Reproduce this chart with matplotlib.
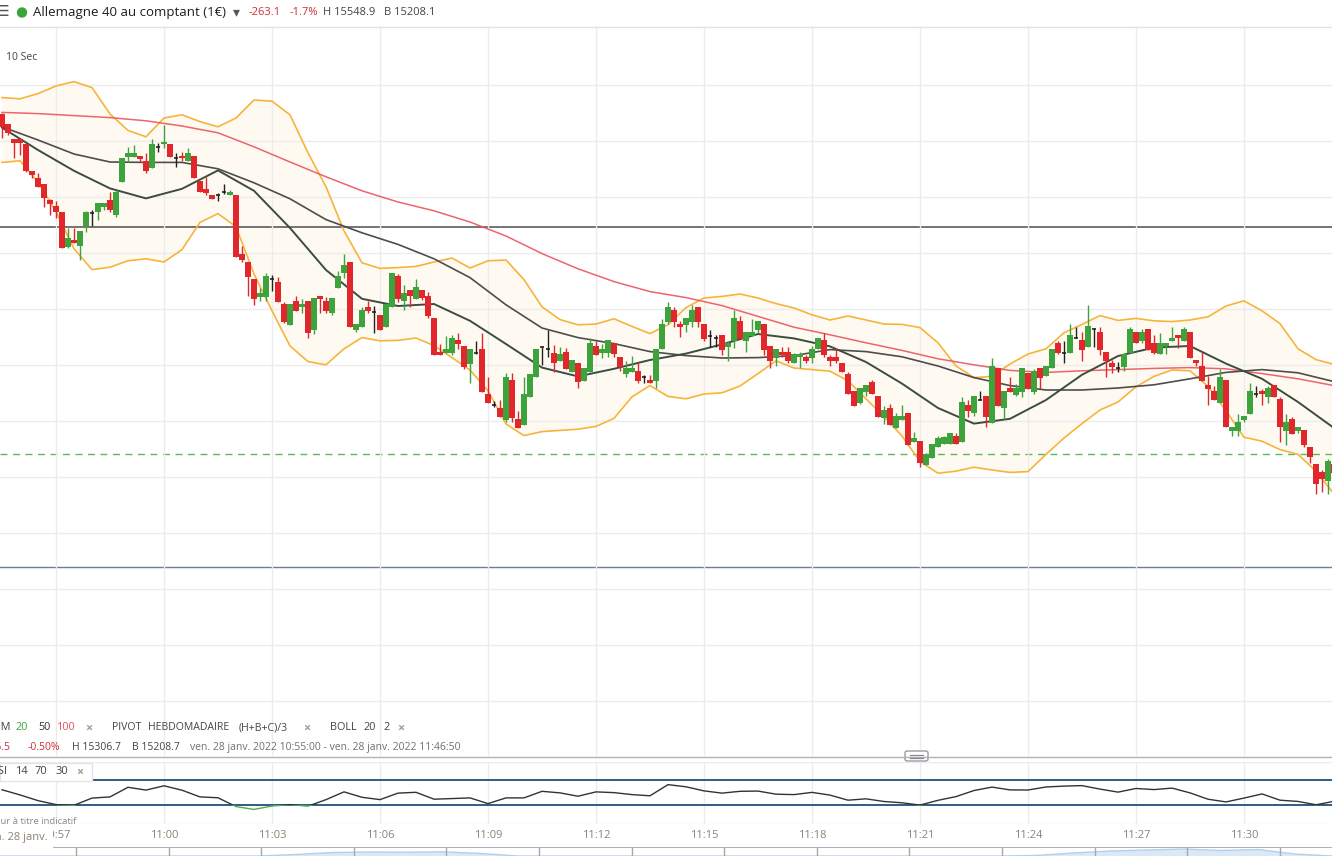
import numpy as np
import matplotlib.pyplot as plt
from matplotlib.patches import Rectangle, Ellipse, FancyBboxPatch
from matplotlib.lines import Line2D

plt.rcParams['font.family'] = ['Open Sans', 'DejaVu Sans']

W, H = 1332, 856

# 10 s candles, index 0 = 10:55:30
opens = [15306.4, 15303.9, 15300.3, 15300.3, 15299.0, 15292.3, 15290.6, 15289.0, 15285.0, 15283.5,
         15282.0, 15273.3, 15275.0, 15273.6, 15278.6, 15281.8, 15281.9, 15283.3, 15285.0, 15281.3,
         15289.6, 15295.8, 15295.8, 15296.0, 15294.8, 15293.1, 15298.3, 15298.9, 15298.9, 15295.6,
         15296.0, 15294.8, 15296.0, 15289.8, 15287.8, 15286.3, 15286.3, 15287.1, 15286.2, 15286.2,
         15271.5, 15269.4, 15265.3, 15260.8, 15260.8, 15265.2, 15264.6, 15259.0, 15253.8, 15259.8,
         15258.2, 15259.8, 15252.5, 15261.0, 15259.8, 15256.8, 15263.1, 15266.7, 15269.5, 15252.5,
         15253.3, 15258.2, 15257.1, 15256.3, 15253.3, 15258.2, 15266.0, 15259.8, 15262.5, 15260.3,
         15262.5, 15261.0, 15255.4, 15247.1, 15246.8, 15246.8, 15250.0, 15248.5, 15244.0, 15246.8,
         15247.8, 15236.5, 15233.8, 15233.1, 15230.0, 15240.0, 15230.3, 15228.8, 15235.8, 15240.7,
         15248.3, 15247.8, 15246.8, 15244.8, 15246.9, 15242.1, 15244.2, 15239.8, 15242.1, 15248.5,
         15246.8, 15246.8, 15249.2, 15245.7, 15241.4, 15242.1, 15242.3, 15240.8, 15240.0, 15239.8,
         15247.8, 15254.6, 15257.5, 15254.0, 15253.8, 15254.6, 15258.2, 15254.0, 15251.1, 15250.4,
         15251.3, 15248.3, 15249.8, 15254.8, 15249.8, 15251.0, 15252.5, 15254.0, 15248.5, 15245.4,
         15247.1, 15247.1, 15244.2, 15245.7, 15245.7, 15245.6, 15247.7, 15250.0, 15245.7, 15245.7,
         15244.3, 15241.5, 15237.3, 15234.3, 15237.1, 15239.4, 15236.0, 15230.5, 15233.1, 15228.1,
         15230.0, 15231.7, 15224.6, 15224.8, 15218.8, 15220.4, 15223.2, 15224.0, 15223.9, 15226.0,
         15224.6, 15233.8, 15231.7, 15235.0, 15236.0, 15229.2, 15242.9, 15232.9, 15238.1, 15236.3,
         15237.1, 15241.7, 15237.1, 15242.9, 15241.0, 15242.9, 15249.3, 15246.7, 15246.8, 15250.4,
         15250.0, 15248.3, 15252.7, 15252.1, 15247.1, 15244.2, 15242.9, 15243.3, 15246.8, 15252.0,
         15249.8, 15252.7, 15249.2, 15246.4, 15248.5, 15249.8, 15251.3, 15249.8, 15252.0, 15245.0,
         15243.5, 15238.8, 15237.3, 15234.3, 15240.0, 15227.3, 15227.3, 15230.0, 15231.5, 15236.4,
         15237.3, 15235.8, 15238.8, 15235.2, 15227.3, 15230.3, 15227.3, 15227.5, 15223.3, 15219.0,
         15217.1, 15214.8, 15219.0]
highs = [15306.8, 15304.0, 15300.3, 15300.3, 15299.0, 15292.3, 15291.8, 15289.0, 15285.3, 15284.8,
         15282.0, 15278.0, 15278.0, 15277.3, 15282.3, 15282.5, 15284.3, 15284.3, 15287.1, 15287.5,
         15295.4, 15298.3, 15298.8, 15296.0, 15296.7, 15300.3, 15299.2, 15303.8, 15298.9, 15296.7,
         15296.9, 15297.9, 15296.0, 15289.8, 15290.8, 15286.3, 15286.7, 15288.9, 15287.5, 15286.2,
         15273.5, 15269.4, 15265.3, 15262.9, 15266.7, 15266.3, 15265.7, 15259.4, 15259.0, 15261.0,
         15260.2, 15259.8, 15260.4, 15261.0, 15260.8, 15260.4, 15267.3, 15271.5, 15269.5, 15254.0,
         15258.2, 15259.8, 15258.5, 15256.3, 15259.0, 15266.8, 15266.5, 15263.8, 15262.5, 15265.3,
         15262.5, 15262.1, 15255.4, 15249.0, 15251.0, 15251.3, 15251.8, 15248.5, 15247.8, 15249.8,
         15251.8, 15240.7, 15234.8, 15235.0, 15241.8, 15241.8, 15232.3, 15240.8, 15241.5, 15247.8,
         15248.3, 15252.5, 15248.8, 15248.3, 15248.1, 15245.0, 15244.2, 15243.1, 15250.4, 15249.8,
         15248.9, 15250.0, 15249.2, 15245.7, 15244.8, 15246.1, 15244.2, 15241.3, 15241.2, 15247.8,
         15255.2, 15259.4, 15258.2, 15254.8, 15255.4, 15258.8, 15258.2, 15254.0, 15252.5, 15251.3,
         15251.3, 15249.8, 15257.5, 15256.0, 15251.9, 15255.2, 15254.8, 15254.0, 15248.5, 15247.8,
         15248.3, 15248.3, 15246.8, 15247.0, 15246.3, 15248.5, 15250.6, 15251.8, 15246.3, 15247.9,
         15244.3, 15242.1, 15237.3, 15238.1, 15238.8, 15240.0, 15236.0, 15233.5, 15233.9, 15231.8,
         15233.8, 15231.7, 15227.1, 15224.8, 15221.8, 15224.0, 15226.0, 15226.0, 15226.7, 15226.7,
         15235.7, 15235.0, 15236.0, 15237.3, 15236.0, 15245.4, 15242.9, 15237.3, 15240.7, 15239.0,
         15242.9, 15241.7, 15242.7, 15242.9, 15243.5, 15247.7, 15249.8, 15249.8, 15253.9, 15253.2,
         15252.1, 15258.8, 15252.9, 15253.2, 15247.1, 15245.0, 15244.6, 15246.5, 15253.3, 15252.0,
         15252.7, 15252.7, 15251.3, 15251.8, 15249.2, 15253.3, 15251.3, 15253.3, 15252.0, 15245.0,
         15247.1, 15241.0, 15238.5, 15242.7, 15240.0, 15228.2, 15231.5, 15231.0, 15239.2, 15238.5,
         15237.7, 15238.5, 15238.8, 15235.7, 15231.5, 15230.8, 15228.3, 15227.5, 15223.3, 15219.0,
         15217.5, 15220.2, 15219.0]
lows = [15300.5, 15301.3, 15295.4, 15296.3, 15292.0, 15290.5, 15288.3, 15283.3, 15281.3, 15280.6,
        15272.9, 15273.0, 15274.3, 15270.0, 15277.1, 15278.5, 15280.0, 15282.5, 15282.1, 15280.7,
        15289.6, 15294.6, 15295.8, 15294.5, 15291.8, 15293.1, 15296.9, 15298.1, 15295.8, 15293.3,
        15294.8, 15294.8, 15290.4, 15286.9, 15286.3, 15285.3, 15284.8, 15286.4, 15286.2, 15270.8,
        15269.5, 15261.1, 15258.8, 15259.8, 15259.8, 15262.3, 15259.6, 15254.2, 15253.8, 15257.3,
        15256.8, 15250.6, 15251.4, 15256.8, 15256.8, 15256.3, 15263.1, 15265.4, 15253.3, 15251.9,
        15253.3, 15256.8, 15251.8, 15252.5, 15253.3, 15258.2, 15259.6, 15257.5, 15258.3, 15260.3,
        15260.0, 15255.4, 15246.3, 15246.3, 15246.8, 15246.3, 15247.7, 15242.8, 15239.3, 15246.4,
        15237.1, 15234.3, 15233.2, 15230.8, 15229.6, 15229.6, 15228.1, 15228.8, 15235.8, 15240.7,
        15243.8, 15245.7, 15242.1, 15244.8, 15242.8, 15242.1, 15237.9, 15239.8, 15242.1, 15246.3,
        15245.6, 15245.7, 15245.7, 15242.3, 15240.8, 15242.1, 15239.3, 15239.3, 15239.3, 15238.1,
        15247.8, 15254.0, 15253.3, 15250.7, 15251.9, 15253.3, 15253.3, 15249.8, 15248.3, 15248.3,
        15246.3, 15244.8, 15247.9, 15250.3, 15247.1, 15251.0, 15251.8, 15246.3, 15242.9, 15243.6,
        15245.7, 15244.2, 15244.2, 15243.1, 15244.2, 15244.3, 15247.7, 15245.7, 15243.6, 15244.3,
        15242.1, 15236.4, 15233.6, 15234.0, 15236.1, 15236.4, 15230.8, 15229.0, 15228.8, 15228.0,
        15230.0, 15223.8, 15224.6, 15218.3, 15218.8, 15220.4, 15223.2, 15224.0, 15223.9, 15223.9,
        15224.6, 15230.8, 15231.0, 15235.0, 15228.2, 15229.2, 15233.5, 15230.3, 15237.1, 15236.0,
        15235.8, 15237.7, 15236.5, 15237.7, 15241.0, 15242.9, 15246.4, 15244.3, 15246.8, 15250.4,
        15244.8, 15248.3, 15248.3, 15246.3, 15240.8, 15241.7, 15242.1, 15242.3, 15246.8, 15249.2,
        15249.2, 15247.5, 15246.5, 15246.4, 15246.4, 15249.8, 15247.9, 15249.8, 15245.6, 15243.5,
        15239.8, 15233.8, 15235.0, 15234.3, 15228.2, 15226.0, 15226.0, 15229.6, 15231.5, 15235.8,
        15233.8, 15234.3, 15235.8, 15224.6, 15223.8, 15226.5, 15226.8, 15223.3, 15219.2, 15211.5,
        15212.1, 15211.5, 15216.8]
closes = [15303.3, 15301.7, 15299.3, 15299.3, 15292.3, 15291.3, 15288.3, 15285.4, 15283.9, 15281.9,
          15272.9, 15275.5, 15274.3, 15277.3, 15282.0, 15281.8, 15284.2, 15284.3, 15282.5, 15287.1,
          15295.4, 15296.7, 15296.7, 15295.3, 15292.3, 15298.9, 15298.3, 15299.4, 15295.8, 15295.6,
          15295.4, 15296.7, 15290.4, 15286.9, 15286.7, 15285.3, 15286.3, 15287.1, 15287.1, 15270.8,
          15270.0, 15265.8, 15260.3, 15261.8, 15266.0, 15265.2, 15259.6, 15254.6, 15259.0, 15257.3,
          15259.0, 15251.8, 15260.4, 15260.3, 15257.3, 15260.4, 15266.0, 15268.8, 15253.3, 15254.0,
          15257.5, 15257.3, 15257.1, 15252.5, 15259.0, 15266.8, 15260.3, 15261.8, 15261.0, 15263.2,
          15260.4, 15256.0, 15246.3, 15246.3, 15247.8, 15250.6, 15249.1, 15243.3, 15247.8, 15246.8,
          15237.1, 15234.3, 15233.8, 15230.8, 15240.8, 15230.6, 15228.1, 15236.5, 15241.5, 15247.8,
          15248.3, 15247.8, 15244.2, 15246.4, 15242.8, 15245.0, 15239.4, 15243.1, 15249.2, 15246.3,
          15247.8, 15250.0, 15246.4, 15243.2, 15242.9, 15242.9, 15239.8, 15240.8, 15239.3, 15247.8,
          15254.0, 15258.2, 15254.6, 15253.3, 15255.4, 15257.5, 15254.6, 15250.2, 15251.1, 15250.4,
          15247.5, 15249.2, 15255.4, 15250.3, 15251.9, 15251.9, 15254.8, 15247.5, 15244.8, 15247.8,
          15246.3, 15244.8, 15246.5, 15246.5, 15244.8, 15247.8, 15250.6, 15246.3, 15244.8, 15244.8,
          15242.1, 15236.4, 15233.6, 15238.1, 15238.8, 15236.4, 15230.8, 15232.5, 15228.8, 15231.0,
          15231.0, 15223.8, 15225.6, 15219.3, 15221.4, 15224.0, 15225.4, 15225.7, 15226.7, 15223.9,
          15234.4, 15232.3, 15236.0, 15235.0, 15230.8, 15243.5, 15233.5, 15237.3, 15237.1, 15238.1,
          15242.9, 15237.7, 15242.3, 15240.6, 15243.5, 15247.7, 15246.8, 15246.7, 15251.3, 15250.4,
          15247.5, 15253.5, 15252.7, 15247.5, 15244.8, 15243.3, 15242.9, 15246.5, 15252.7, 15249.2,
          15252.0, 15247.5, 15246.8, 15249.2, 15249.2, 15250.4, 15250.4, 15252.7, 15245.6, 15244.2,
          15239.8, 15237.8, 15235.0, 15240.7, 15228.2, 15228.2, 15229.4, 15231.0, 15237.3, 15236.4,
          15236.4, 15238.1, 15235.8, 15228.2, 15229.4, 15226.5, 15228.3, 15223.8, 15220.8, 15214.0,
          15215.2, 15219.8, 15216.8]

# moving averages, read every 6 candles
mm100 = [15306.9, 15306.6, 15306.1, 15305.6, 15304.8, 15303.5, 15301.8, 15298.3, 15294.5, 15290.8,
         15287.3, 15284.5, 15282.3, 15279.5, 15276.0, 15271.6, 15267.8, 15264.6, 15262.1, 15260.6,
         15258.6, 15255.9, 15253.2, 15251.3, 15249.3, 15247.4, 15245.3, 15243.8, 15242.4, 15241.9,
         15242.3, 15242.6, 15242.9, 15243.1, 15242.8, 15241.6, 15240.3, 15238.6]
mm50 = [15303.3, 15300.0, 15296.5, 15294.5, 15294.4, 15294.4, 15292.8, 15289.3, 15285.3, 15280.1,
        15276.8, 15273.9, 15270.3, 15265.6, 15258.8, 15253.0, 15250.6, 15249.1, 15247.1, 15246.1,
        15245.5, 15245.6, 15246.1, 15247.6, 15247.1, 15245.8, 15243.5, 15240.6, 15238.6, 15237.5,
        15237.5, 15238.0, 15238.8, 15240.3, 15241.9, 15242.6, 15241.8, 15239.6]
mm20 = [15303.1, 15297.5, 15292.3, 15287.9, 15285.4, 15287.8, 15292.4, 15287.3, 15278.0, 15267.5,
        15260.3, 15258.5, 15259.0, 15254.8, 15249.0, 15243.1, 15240.9, 15242.8, 15245.0, 15246.6,
        15248.9, 15251.5, 15250.4, 15248.4, 15244.5, 15239.1, 15233.0, 15229.1, 15230.3, 15235.0,
        15241.3, 15246.0, 15248.1, 15248.5, 15244.1, 15240.3, 15234.5, 15228.0]

# Bollinger (20, 2) and RSI 14, read every 3 candles
boll_up = [15310.6, 15310.3, 15311.6, 15313.5, 15314.6, 15313.1, 15306.5, 15302.4, 15300.8, 15305.5,
           15306.3, 15304.6, 15303.3, 15305.5, 15310.0, 15309.7, 15306.3, 15296.8, 15288.3, 15277.3,
           15269.3, 15267.9, 15268.1, 15268.4, 15269.5, 15270.5, 15268.0, 15269.8, 15270.0, 15265.1,
           15258.3, 15255.1, 15253.8, 15254.0, 15255.3, 15253.4, 15251.6, 15253.8, 15258.1, 15260.5,
           15260.9, 15261.5, 15260.5, 15259.1, 15258.0, 15256.3, 15255.0, 15256.0, 15255.0, 15254.0,
           15253.9, 15253.1, 15249.3, 15243.5, 15240.6, 15240.9, 15244.0, 15246.5, 15247.8, 15251.8,
           15253.9, 15256.1, 15254.9, 15255.4, 15254.8, 15254.6, 15255.0, 15255.8, 15258.5, 15259.8,
           15257.3, 15254.1, 15247.8, 15245.1, 15243.9]
boll_low = [15294.4, 15294.8, 15289.5, 15282.1, 15272.8, 15267.6, 15268.2, 15269.8, 15270.3, 15269.5,
            15272.6, 15279.4, 15281.6, 15278.3, 15266.5, 15257.3, 15248.5, 15244.6, 15243.8, 15247.8,
            15250.6, 15249.8, 15249.9, 15250.5, 15248.6, 15245.6, 15242.5, 15237.3, 15229.0, 15226.1,
            15227.1, 15227.4, 15227.7, 15228.4, 15230.4, 15235.8, 15238.6, 15235.9, 15235.3, 15236.5,
            15236.8, 15238.5, 15241.6, 15244.8, 15243.0, 15242.6, 15242.2, 15239.8, 15235.3, 15230.8,
            15226.0, 15219.6, 15216.7, 15217.2, 15218.2, 15217.5, 15216.9, 15217.1, 15221.4, 15225.5,
            15229.1, 15232.5, 15234.5, 15238.3, 15240.9, 15242.5, 15242.3, 15238.4, 15232.3, 15225.7,
            15224.7, 15222.6, 15221.4, 15217.2, 15211.5]
rsi = [54.4, 46.1, 36.9, 30.5, 29.4, 41.0, 42.9, 58.4, 53.9, 60.8,
       53.7, 42.9, 41.5, 27.3, 22.7, 28.2, 30.5, 27.9, 38.5, 51.0,
       42.3, 38.5, 49.0, 50.3, 39.2, 40.2, 41.3, 32.1, 41.3, 41.3,
       51.9, 49.4, 44.0, 51.0, 49.8, 46.6, 44.7, 62.7, 59.2, 52.6,
       49.0, 51.9, 52.3, 47.3, 46.6, 50.2, 45.8, 37.6, 39.8, 35.5,
       33.4, 29.7, 37.4, 43.4, 53.2, 58.7, 54.2, 54.0, 58.9, 60.3,
       61.1, 55.5, 50.6, 56.5, 54.7, 57.1, 49.4, 39.2, 34.8, 41.0,
       47.7, 37.6, 35.6, 30.2, 35.8]

pivot_weekly = 15278.3
support_1 = 15193.3
last_price = 15221.5

time_labels = ['10:57', '11:00', '11:03', '11:06', '11:09', '11:12',
               '11:15', '11:18', '11:21', '11:24', '11:27', '11:30']

# navigator mini chart (light blue strip at the very bottom)
nav_vals = [0, 0, 0, 0, 0, 0, 0, 0, 1.5, 3.5, 4, 3.8, 4.2, 2.5, 0, 0, 0, 0, 0, 0,
            0, 0, 0, 0, 0, 0, 0, 0, 0.5, 3, 5, 6, 7, 5.5, 6.5, 2, 0]


def box(x0, y0, x1, y1):
    return [x0 / W, 1 - y1 / H, (x1 - x0) / W, (y1 - y0) / H]


def fx(px):
    return px / W


def fy(py):
    return 1 - py / H


o = np.array(opens)
c = np.array(closes)
hi = np.array(highs)
lo = np.array(lows)
idx = np.arange(len(c))
ma_idx = np.arange(len(mm20)) * 6
bb_idx = np.arange(len(boll_up)) * 3
rsi_idx = np.arange(len(rsi)) * 3
tick_idx = 9 + 18 * np.arange(len(time_labels))

RED = '#e1262c'
GREEN = '#3da43d'
GRID = '#ececec'
LBL = '#8c8274'

fig = plt.figure(figsize=(W / 100, H / 100), dpi=100)
fig.patch.set_facecolor('white')
xlim = (-2 / 6.0, (W - 2) / 6.0)

# ---------------- main price panel ----------------
ax = fig.add_axes(box(0, 27, W, 756))
ax.set_xlim(*xlim)
ax.set_ylim(15146.0, 15328.25)
for s in ax.spines.values():
    s.set_visible(False)
ax.set_xticks(tick_idx)
ax.set_yticks(np.arange(15313.8, 15150, -14))
ax.tick_params(length=0, labelbottom=False, labelleft=False)
ax.grid(True, color=GRID, lw=1)

ax.fill_between(bb_idx, boll_low, boll_up, color='#fffaf1', lw=0, zorder=0.2)
ax.plot(bb_idx, boll_up, color='#f7b43a', lw=1.2, zorder=2)
ax.plot(bb_idx, boll_low, color='#f7b43a', lw=1.2, zorder=2)

ax.axhline(pivot_weekly, color='#5c5c5c', lw=1.2, zorder=1)
ax.axhline(support_1, color='#6f7e8c', lw=1, zorder=1)
ax.axhline(last_price, color='#5cb85c', lw=1, ls=(0, (5, 4)), zorder=1)

ax.plot(ma_idx, mm100, color='#ea555c', lw=1.1, alpha=0.9, zorder=2.5)
ax.plot(ma_idx, mm50, color='#4d4d4d', lw=1.2, zorder=2.5)
ax.plot(ma_idx, mm20, color='#3a4d3e', lw=1.4, zorder=2.6)

up = c > o
down = c < o
flat = c == o
cols = np.where(up, GREEN, np.where(down, RED, '#222222'))
body_lo = np.minimum(o, c)
body_h = np.maximum(np.abs(c - o), 0.3)
wick_lo = np.minimum(lo, body_lo)
wick_hi = np.maximum(hi, np.maximum(o, c))
ax.vlines(idx, wick_lo, wick_hi, colors=cols, lw=1, zorder=3)
ax.bar(idx[~flat], body_h[~flat], bottom=body_lo[~flat], width=0.85,
       color=cols[~flat], lw=0, zorder=4)
ax.hlines(c[flat], idx[flat] - 0.32, idx[flat] + 0.32, colors='#222222', lw=1.2, zorder=4)

# ---------------- RSI panel ----------------
rax = fig.add_axes(box(0, 761.5, W, 823.5))
rax.set_xlim(*xlim)
rax.set_ylim(0, 100)
for s in rax.spines.values():
    s.set_visible(False)
rax.set_xticks(tick_idx)
rax.set_xticklabels(time_labels)
rax.set_yticks([0, 100])
rax.tick_params(axis='y', length=0, labelleft=False)
rax.tick_params(axis='x', length=0, pad=5, labelsize=8, labelcolor=LBL)
rax.grid(True, color=GRID, lw=1)
rax.axhline(70, color='#1f4f7d', lw=1.3, zorder=2)
rax.axhline(30, color='#1f4f7d', lw=1.3, zorder=2)
l1, = rax.plot(rsi_idx, rsi, color='#333333', lw=1, zorder=3)
l1.set_clip_path(Rectangle((xlim[0], 30), xlim[1] - xlim[0], 80, transform=rax.transData))
l2, = rax.plot(rsi_idx, rsi, color='#4cae4c', lw=1, zorder=3)
l2.set_clip_path(Rectangle((xlim[0], -10), xlim[1] - xlim[0], 40, transform=rax.transData))

# ---------------- navigator strip ----------------
nax = fig.add_axes(box(0, 847, W, 856))
nax.set_xlim(0, len(nav_vals) - 1)
nax.set_ylim(0, 9)
nax.axis('off')
nav_x = np.arange(len(nav_vals))
nax.fill_between(nav_x, 0, nav_vals, color='#dbe8f6', lw=0)
nax.plot(nav_x, nav_vals, color='#b5d0ec', lw=1)
nax.axhline(9, color='#a2a2a2', lw=1.2)
nax.vlines(np.arange(76, W, 92.6) / W * (len(nav_vals) - 1), 0, 9, colors='#a8a8a8', lw=1)

# ---------------- separators / frames ----------------
fig.add_artist(Line2D([0, 1], [fy(27), fy(27)], color='#e2e2e2', lw=1))
fig.add_artist(Line2D([0, 1], [fy(756.5), fy(756.5)], color='#b4b2ad', lw=1))
fig.add_artist(FancyBboxPatch((fx(905), fy(761)), fx(23), 10 / H,
                              boxstyle='round,pad=0,rounding_size=0.002',
                              facecolor='white', edgecolor='#9a9aa6', lw=1))
for yy in (755, 757.5):
    fig.add_artist(Line2D([fx(910), fx(923)], [fy(yy), fy(yy)], color='#8a8a96', lw=0.9))

# RSI caption box
fig.add_artist(Rectangle((0, fy(781)), fx(92), 18 / H, transform=fig.transFigure,
                         facecolor='white', edgecolor='#e4e4e4', lw=1, zorder=5))

# ---------------- texts ----------------
def txt(x, y, s, color='#444444', size=8, ha='left', **kw):
    fig.text(fx(x), fy(y), s, color=color, fontsize=size, ha=ha, va='center', **kw)


# header
txt(-4, 12, '☰', '#555555', 11)
fig.add_artist(Ellipse((fx(22), fy(12.5)), 9 / W, 9 / H, color='#3aa53a'))
txt(33, 12.5, 'Allemagne 40 au comptant (1€)', '#1e1e1e', 9.5)
txt(233, 13, '▾', '#555555', 10)
txt(249, 12.5, '-263.1', '#c9303a', 8)
txt(290, 12.5, '-1.7%', '#c9303a', 8)
txt(323, 12.5, 'H 15548.9', '#444444', 8)
txt(384, 12.5, 'B 15208.1', '#444444', 8)
txt(6, 57, '10 Sec', '#444444', 7.5)

# indicator legend rows
txt(10, 728, 'MM', '#444444', 7.8, ha='right')
txt(15, 728, '20', '#3aa53a', 7.8)
txt(38, 728, '50', '#333333', 7.8)
txt(57, 728, '100', '#e8505b', 7.8)
txt(85, 728, '×', '#9a9a9a', 9, weight='bold')
txt(112, 728, 'PIVOT', '#444444', 7.6)
txt(148, 728, 'HEBDOMADAIRE', '#444444', 7.6)
txt(239, 728, '(H+B+C)/3', '#444444', 7.6)
txt(303, 728, '×', '#9a9a9a', 9, weight='bold')
txt(330, 728, 'BOLL', '#444444', 7.8)
txt(363, 728, '20', '#444444', 7.8)
txt(383, 728, '2', '#444444', 7.8)
txt(397, 728, '×', '#9a9a9a', 9, weight='bold')

txt(11, 747.5, '-76.5', '#c9303a', 7.5, ha='right')
txt(28, 747.5, '-0.50%', '#c9303a', 7.5)
txt(72, 747.5, 'H 15306.7', '#444444', 7.5)
txt(132, 747.5, 'B 15208.7', '#444444', 7.5)
txt(190, 747.5, 'ven. 28 janv. 2022 10:55:00 - ven. 28 janv. 2022 11:46:50', '#707070', 7.5)

# RSI caption
fig.text(fx(8), fy(772), 'RSI', color='#444444', fontsize=8, ha='right', va='center', zorder=6)
fig.text(fx(15), fy(772), '14', color='#444444', fontsize=8, va='center', zorder=6)
fig.text(fx(35), fy(772), '70', color='#444444', fontsize=8, va='center', zorder=6)
fig.text(fx(56), fy(772), '30', color='#444444', fontsize=8, va='center', zorder=6)
fig.text(fx(76), fy(772), '×', color='#9a9a9a', fontsize=9, weight='bold', va='center', zorder=6)

txt(76, 821.5, 'Valeur à titre indicatif', '#8a8a8a', 6.8, ha='right')

# date label covering the first time tick
fig.text(fx(48), fy(837.5), 'ven. 28 janv.', color=LBL, fontsize=8, ha='right', va='center',
         bbox=dict(facecolor='white', edgecolor='none', pad=3.5))

fig.savefig('out.png', dpi=100)
